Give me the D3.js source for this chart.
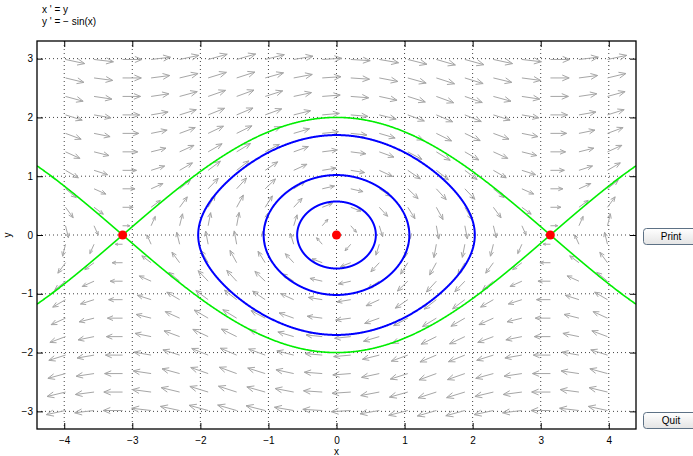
<!DOCTYPE html>
<html>
<head>
<meta charset="utf-8">
<script src="https://d3js.org/d3.v7.min.js"></script>
<style>
  body { margin: 0; background: #fff; }
  text { font-family: "Liberation Sans", Arial, sans-serif; }
  .axis path { display: none; }
  .axis line { stroke: #000; }
  .axis text { font-size: 10px; fill: #000; }
  .grid line { stroke: #444; stroke-dasharray: 1,3; }
  .arrow { fill: none; stroke: #a6a6a6; stroke-width: 1; }
  .btn rect { fill: url(#btnGrad); stroke: #5d7185; stroke-width: 1; }
  .btn text { font-size: 10px; text-anchor: middle; }
</style>
</head>
<body>
<script>
// system shown in the title
var equations = ["x ' = y", "y ' = \u2212 sin(x)"];

// window of the phase plane
var xDomain = [-4.4, 4.4];
var yDomain = [-3.3, 3.3];
var xTicks = [-4, -3, -2, -1, 0, 1, 2, 3, 4];
var yTicks = [-3, -2, -1, 0, 1, 2, 3];

// equilibrium points (red dots)
var equilibria = [[-3.1416, 0], [0, 0], [3.1416, 0]];

// closed orbits (blue), started on the y axis
var orbitStarts = [[0, 0.57], [0, 1.02], [0, 1.70]];

// separatrices (green): start point and time direction
var sepStarts = [
  [0, 2, 1], [0, 2, -1], [0, -2, 1], [0, -2, -1],
  [-4.4, 1.177, 1], [-4.4, -1.177, -1],
  [4.4, -1.177, 1], [4.4, 1.177, -1]
];

// direction field grid size
var nArrows = 20;

var buttons = ["Print", "Quit"];

var W = 693, H = 456;
var plot = { left: 37, top: 41, right: 636, bottom: 429 };

var x = d3.scaleLinear().domain(xDomain).range([plot.left, plot.right]);
var y = d3.scaleLinear().domain(yDomain).range([plot.bottom, plot.top]);

function field(p) { return [p[1], -Math.sin(p[0])]; }

function rk4(p, h) {
  var k1 = field(p);
  var k2 = field([p[0] + h / 2 * k1[0], p[1] + h / 2 * k1[1]]);
  var k3 = field([p[0] + h / 2 * k2[0], p[1] + h / 2 * k2[1]]);
  var k4 = field([p[0] + h * k3[0], p[1] + h * k3[1]]);
  return [p[0] + h / 6 * (k1[0] + 2 * k2[0] + 2 * k3[0] + k4[0]),
          p[1] + h / 6 * (k1[1] + 2 * k2[1] + 2 * k3[1] + k4[1])];
}

function nearEquilibrium(p) {
  for (var i = 0; i < equilibria.length; i++) {
    var e = equilibria[i];
    if (Math.hypot(p[0] - e[0], p[1] - e[1]) < 0.01) return e;
  }
  return null;
}

function solveSeparatrix(s) {
  var p = [s[0], s[1]], h = 0.005 * s[2], pts = [p];
  for (var i = 0; i < 8000; i++) {
    p = rk4(p, h);
    pts.push(p);
    var e = nearEquilibrium(p);
    if (e) { pts.push(e); break; }
    if (Math.abs(p[0]) > 4.6 || Math.abs(p[1]) > 3.5) break;
  }
  return pts;
}

function solveOrbit(s) {
  var p = [s[0], s[1]], h = 0.005, pts = [p];
  for (var i = 0; i < 10000; i++) {
    var q = rk4(p, h);
    pts.push(q);
    if (i > 50 && p[0] < 0 && q[0] >= 0 && q[1] > 0) break;
    p = q;
  }
  pts.push([s[0], s[1]]);
  return pts;
}

var svg = d3.select("body").append("svg")
  .attr("width", W).attr("height", H);

var defs = svg.append("defs");
defs.append("clipPath").attr("id", "clip").append("rect")
  .attr("x", plot.left).attr("y", plot.top)
  .attr("width", plot.right - plot.left).attr("height", plot.bottom - plot.top);
var grad = defs.append("linearGradient").attr("id", "btnGrad")
  .attr("x1", 0).attr("y1", 0).attr("x2", 0).attr("y2", 1);
grad.append("stop").attr("offset", "0%").attr("stop-color", "#ffffff");
grad.append("stop").attr("offset", "100%").attr("stop-color", "#e4e4e4");

// title
svg.selectAll(".eq").data(equations).enter().append("text")
  .attr("class", "eq")
  .attr("x", 42).attr("y", function(d, i) { return 13 + i * 12; })
  .style("font-size", "10px")
  .text(function(d) { return d; });

// grid
var grid = svg.append("g").attr("class", "grid");
grid.selectAll(".gx").data(xTicks).enter().append("line")
  .attr("x1", x).attr("x2", x).attr("y1", plot.top).attr("y2", plot.bottom);
grid.selectAll(".gy").data(yTicks).enter().append("line")
  .attr("y1", y).attr("y2", y).attr("x1", plot.left).attr("x2", plot.right);

var inner = svg.append("g").attr("clip-path", "url(#clip)");

// direction field
var sx = x(1) - x(0), sy = y(0) - y(1);
var gridX = d3.range(1, nArrows + 1).map(function(k) {
  return xDomain[0] + k * (xDomain[1] - xDomain[0]) / (nArrows + 1); });
var gridY = d3.range(1, nArrows + 1).map(function(k) {
  return yDomain[0] + k * (yDomain[1] - yDomain[0]) / (nArrows + 1); });
var arrows = [];
gridX.forEach(function(gx) {
  gridY.forEach(function(gy) { arrows.push([gx, gy]); });
});

function arrowPath(p) {
  var v = field(p);
  var m = Math.hypot(v[0], v[1]);
  var dx = v[0] * sx, dy = -v[1] * sy;
  var n = Math.hypot(dx, dy) || 1;
  var ux = dx / n, uy = dy / n;
  var L = 13.5 * Math.cbrt(m);
  var x0 = x(p[0]), y0 = y(p[1]);
  var x1 = x0 + L * ux, y1 = y0 + L * uy;
  var hl = 0.4 * L, a = 0.4;
  var c = Math.cos(a), s = Math.sin(a);
  var hx1 = x1 - hl * (ux * c - uy * s), hy1 = y1 - hl * (uy * c + ux * s);
  var hx2 = x1 - hl * (ux * c + uy * s), hy2 = y1 - hl * (uy * c - ux * s);
  return "M" + x0 + "," + y0 + "L" + x1 + "," + y1 +
         "M" + hx1 + "," + hy1 + "L" + x1 + "," + y1 + "L" + hx2 + "," + hy2;
}

inner.selectAll(".arrow").data(arrows).enter().append("path")
  .attr("class", "arrow")
  .attr("d", arrowPath);

var line = d3.line().x(function(d) { return x(d[0]); }).y(function(d) { return y(d[1]); });

// separatrices
inner.selectAll(".sep").data(sepStarts.map(solveSeparatrix)).enter().append("path")
  .attr("class", "sep")
  .attr("d", line)
  .attr("fill", "none").attr("stroke", "#00ee00").attr("stroke-width", 1.6);

// closed orbits
inner.selectAll(".orbit").data(orbitStarts.map(solveOrbit)).enter().append("path")
  .attr("class", "orbit")
  .attr("d", line)
  .attr("fill", "none").attr("stroke", "#0000ff").attr("stroke-width", 2);

// equilibria
inner.selectAll(".eqpt").data(equilibria).enter().append("circle")
  .attr("cx", function(d) { return x(d[0]); })
  .attr("cy", function(d) { return y(d[1]); })
  .attr("r", 4.5).attr("fill", "#ff0000");

// axes, ticks inside on all four sides
var fmt = d3.format("d");
svg.append("g").attr("class", "axis")
  .attr("transform", "translate(0," + plot.bottom + ")")
  .call(d3.axisBottom(x).tickValues(xTicks).tickFormat(fmt).tickSize(-6).tickPadding(8));
svg.append("g").attr("class", "axis")
  .attr("transform", "translate(0," + plot.top + ")")
  .call(d3.axisTop(x).tickValues(xTicks).tickSize(-6).tickFormat(""));
svg.append("g").attr("class", "axis")
  .attr("transform", "translate(" + plot.left + ",0)")
  .call(d3.axisLeft(y).tickValues(yTicks).tickFormat(fmt).tickSize(-6).tickPadding(4));
svg.append("g").attr("class", "axis")
  .attr("transform", "translate(" + plot.right + ",0)")
  .call(d3.axisRight(y).tickValues(yTicks).tickSize(-6).tickFormat(""));

svg.append("rect")
  .attr("x", plot.left).attr("y", plot.top)
  .attr("width", plot.right - plot.left).attr("height", plot.bottom - plot.top)
  .attr("fill", "none").attr("stroke", "#000").attr("stroke-width", 1.3);

// axis labels
svg.append("text").attr("x", x(0)).attr("y", 455)
  .attr("text-anchor", "middle").style("font-size", "10px").text("x");
svg.append("text").attr("transform", "translate(11," + y(0) + ") rotate(-90)")
  .attr("text-anchor", "middle").style("font-size", "10px").text("y");

// buttons
var btnY = [228, 412];
var btn = svg.selectAll(".btn").data(buttons).enter().append("g")
  .attr("class", "btn")
  .attr("transform", function(d, i) { return "translate(643," + btnY[i] + ")"; });
btn.append("rect").attr("x", 0.5).attr("y", 0.5)
  .attr("width", 60).attr("height", 16).attr("rx", 3);
btn.append("text").attr("x", 28).attr("y", 12).text(function(d) { return d; });
</script>
</body>
</html>
